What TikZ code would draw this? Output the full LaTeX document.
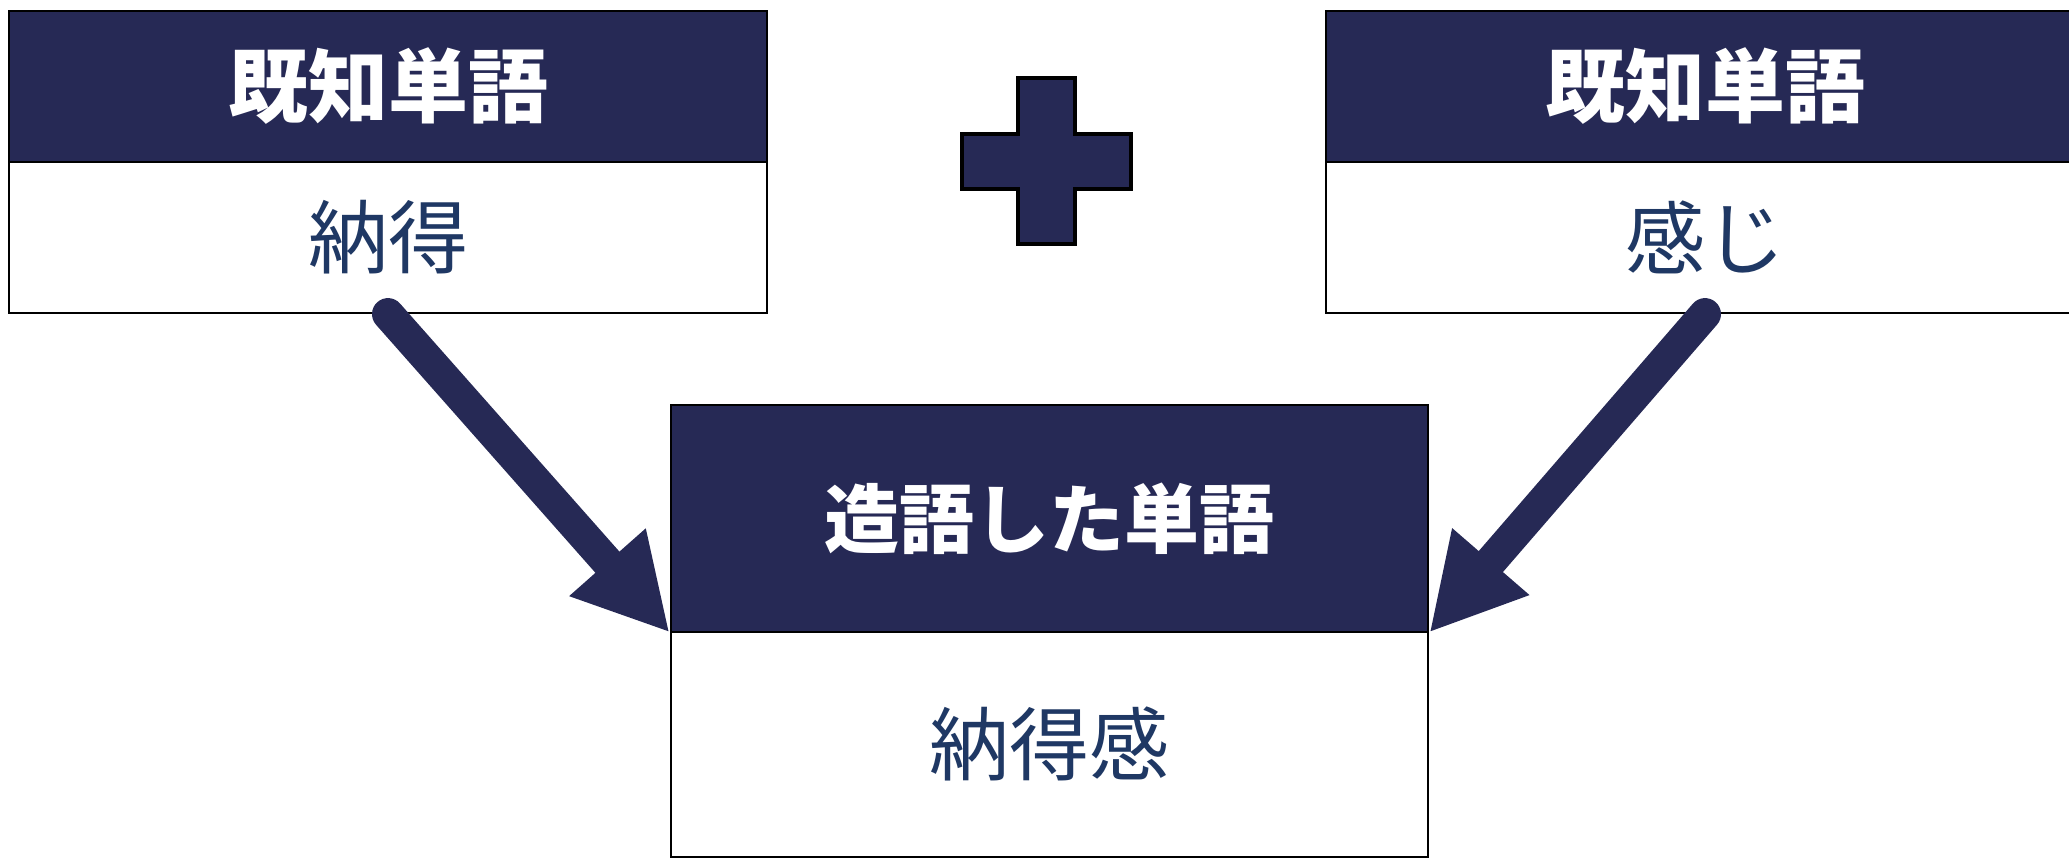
\documentclass[tikz,border=0pt]{standalone}
\usepackage{fontspec}
\newfontfamily\cjk{Noto Sans CJK JP}
\usetikzlibrary{arrows.meta}
\definecolor{navy}{RGB}{38,41,85}
\definecolor{subblue}{RGB}{31,56,100}
\tikzset{
  hdr/.style={draw=black, line width=2pt, fill=navy, text=white, inner sep=0pt,
    minimum width=758pt, font=\cjk\bfseries\fontsize{80}{96}\selectfont},
  subbox/.style={draw=black, line width=2pt, fill=white, text=subblue, inner sep=0pt,
    minimum width=758pt, font=\cjk\fontsize{80}{96}\selectfont},
  bigarrow/.style={draw=navy, line width=32pt, line cap=round,
    -{Triangle[length=94pt 0 0, width=95pt 0 0]}}
}
\begin{document}
\begin{tikzpicture}[x=1pt,y=-1pt]
\useasboundingbox (0,0) rectangle (2069,858);
\clip (0,0) rectangle (2069,858);
% left pair
\node[hdr, minimum height=151.4pt] (hL) at (388,86.3) {既知単語};
\node[subbox, minimum height=151pt] (sL) at (388,237.6) {納得};
% right pair
\node[hdr, minimum height=151.4pt] (hR) at (1705,86.3) {既知単語};
\node[subbox, minimum height=151pt] (sR) at (1705,237.6) {感じ};
% bottom pair
\node[subbox, minimum width=757.6pt, minimum height=225.3pt] (sB) at (1049.5,744.3) {納得感};
\node[hdr, minimum width=757.6pt, minimum height=226.7pt,
  font=\cjk\bfseries\fontsize{75}{90}\selectfont] (hB) at (1049.5,518.3) {造語した単語};
% plus sign
\filldraw[fill=navy, draw=black, line width=4pt]
  (1018.3,78) -- (1075,78) -- (1075,134) -- (1131,134) -- (1131,189.3) -- (1075,189.3)
  -- (1075,244.5) -- (1018.3,244.5) -- (1018.3,189.3) -- (962,189.3) -- (962,134)
  -- (1018.3,134) -- cycle;
% arrows
\draw[bigarrow] (sL.south) -- (hB.south west);
\draw[bigarrow] (sR.south) -- (hB.south east);
\end{tikzpicture}
\end{document}
